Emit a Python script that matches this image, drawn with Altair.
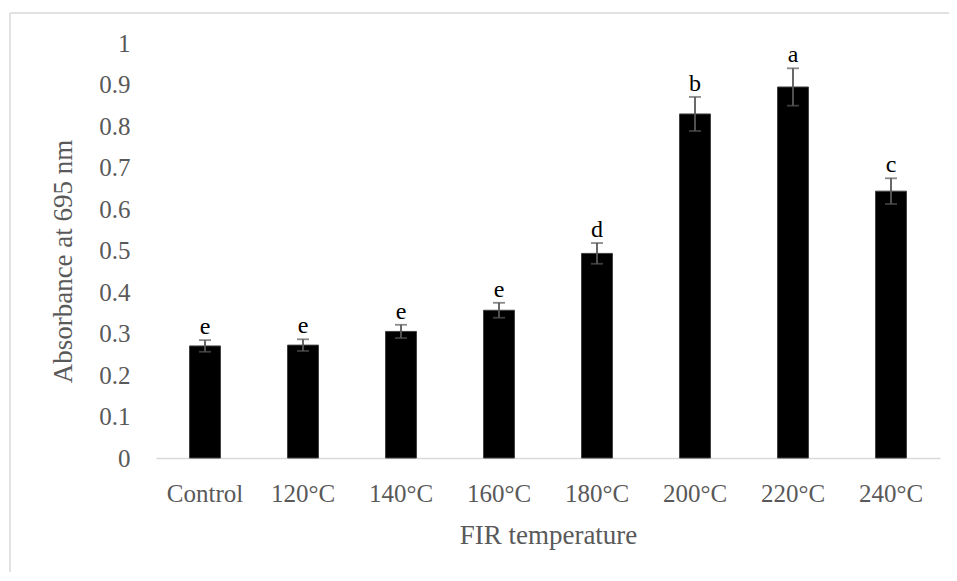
import altair as alt
import pandas as pd

categories = ["Control", "120°C", "140°C", "160°C", "180°C", "200°C", "220°C", "240°C"]
values = [0.270, 0.272, 0.305, 0.356, 0.493, 0.829, 0.894, 0.643]
errors = [0.014, 0.014, 0.016, 0.018, 0.025, 0.041, 0.045, 0.031]
letters = ["e", "e", "e", "e", "d", "b", "a", "c"]

df = pd.DataFrame({
    "cat": categories,
    "val": values,
    "lo": [v - e for v, e in zip(values, errors)],
    "hi": [v + e for v, e in zip(values, errors)],
    "letter": letters,
})

FONT = "Liberation Serif"
GRAY = "#595959"

xenc = alt.X("cat:N", sort=categories,
             scale=alt.Scale(paddingInner=0.684, paddingOuter=0.342),
             axis=alt.Axis(title="FIR temperature", labelAngle=0, ticks=False,
                           domainColor="#d9d9d9", domainWidth=1.5,
                           labelFont=FONT, labelFontSize=25, labelColor=GRAY,
                           labelBaseline="alphabetic", labelPadding=43,
                           titleFont=FONT, titleFontSize=27, titleColor=GRAY,
                           titleFontWeight="normal", titleBaseline="alphabetic",
                           titleY=85))

yscale = alt.Scale(domain=[0, 1])

base = alt.Chart(df)
one = base.transform_filter(alt.datum.cat == "Control")

border_top = one.mark_rule(stroke="#d9d9d9", strokeWidth=1.5).encode(
    x=alt.value(-146), x2=alt.value(900), y=alt.value(-30)
)
border_left = one.mark_rule(stroke="#d9d9d9", strokeWidth=1.5).encode(
    x=alt.value(-146), y=alt.value(-30), y2=alt.value(600)
)

bars = base.mark_bar(color="black", stroke="#404040", strokeWidth=1).encode(
    x=xenc,
    y=alt.Y("val:Q", scale=yscale,
            axis=alt.Axis(title="Absorbance at 695 nm", values=[i / 10 for i in range(11)],
                          format="~g", grid=False, domain=False, ticks=False,
                          labelFont=FONT, labelFontSize=25, labelColor=GRAY,
                          labelPadding=26,
                          titleFont=FONT, titleFontSize=27, titleColor=GRAY,
                          titleFontWeight="normal", titleBaseline="alphabetic",
                          titleX=-85, titleY=218)),
)

rules = base.mark_rule(color=GRAY, strokeWidth=1.8).encode(
    x=alt.X("cat:N", sort=categories), y=alt.Y("lo:Q", scale=yscale), y2="hi:Q"
)
caps_lo = base.mark_tick(color=GRAY, size=12, thickness=1.8).encode(
    x=alt.X("cat:N", sort=categories), y=alt.Y("lo:Q", scale=yscale)
)
caps_hi = base.mark_tick(color=GRAY, size=12, thickness=1.8).encode(
    x=alt.X("cat:N", sort=categories), y=alt.Y("hi:Q", scale=yscale)
)
labels = base.mark_text(font=FONT, fontSize=24, color="black", baseline="alphabetic", dy=-6).encode(
    x=alt.X("cat:N", sort=categories), y=alt.Y("hi:Q", scale=yscale), text="letter:N"
)

chart = alt.layer(border_top, border_left, bars, rules, caps_lo, caps_hi, labels).properties(
    width=784, height=415,
    autosize=alt.AutoSizeParams(type="none"),
    padding={"left": 148, "top": 35, "right": 9, "bottom": 114},
).configure(background="white", view=alt.ViewConfig(strokeWidth=0, stroke="transparent"))

chart.save("out.html", embed_options={"renderer": "svg", "actions": False})
